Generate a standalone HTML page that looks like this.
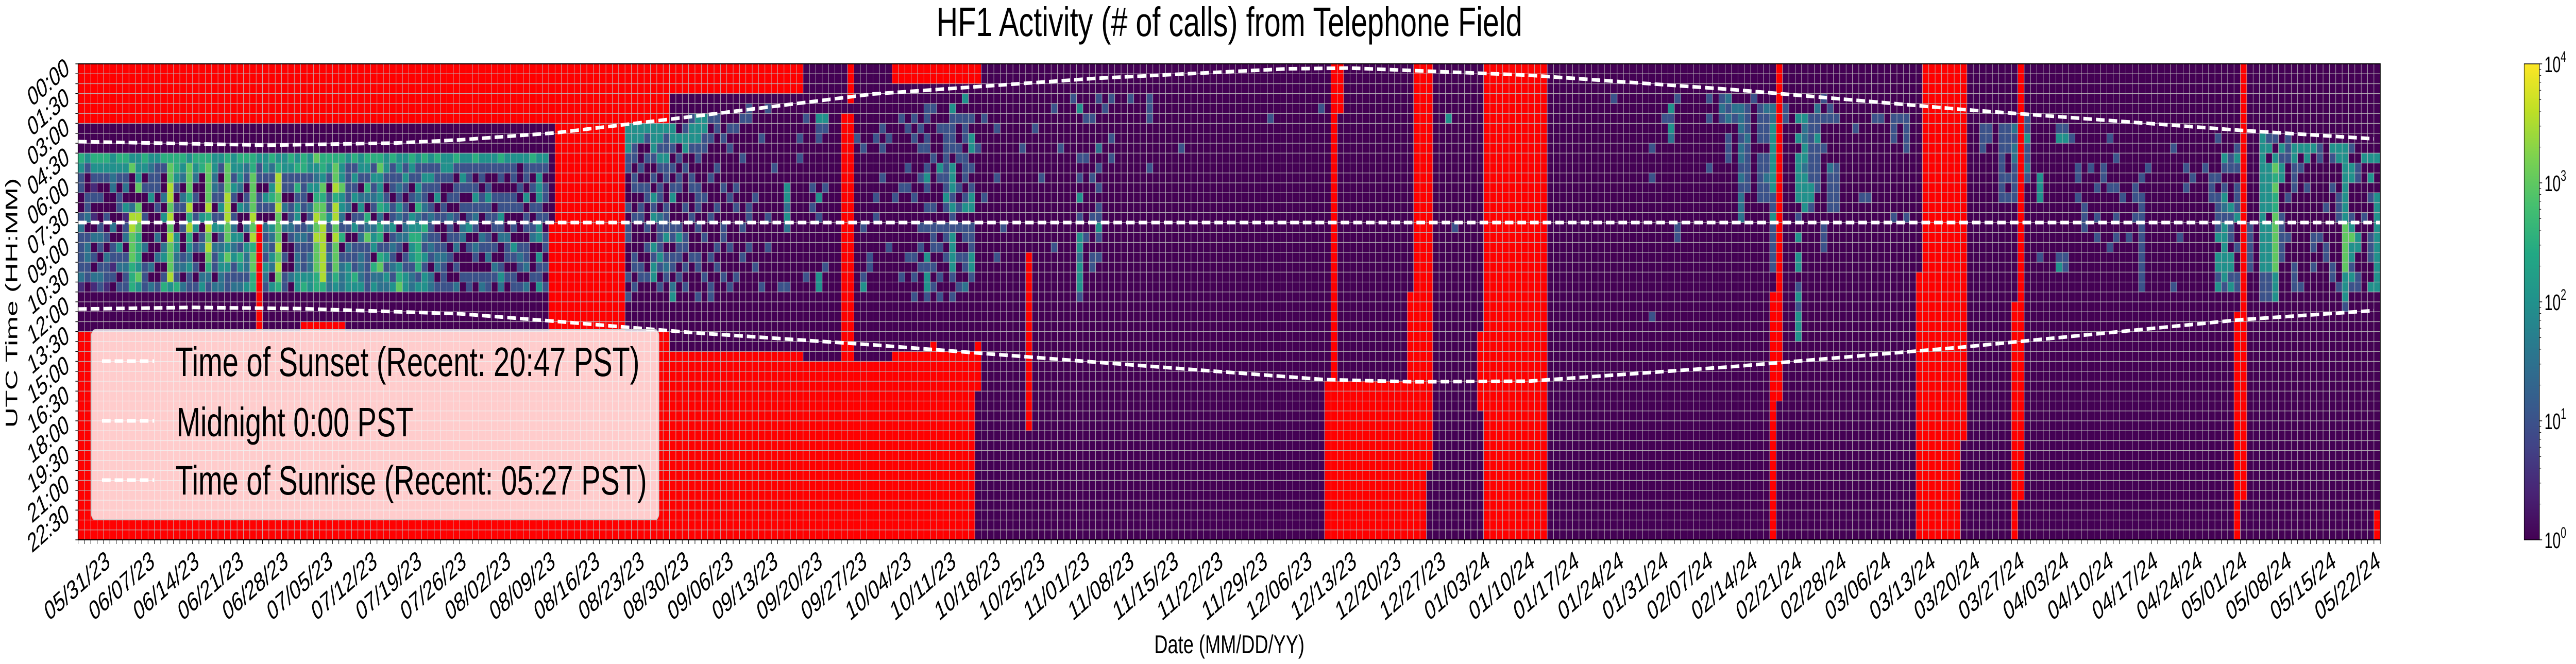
<!DOCTYPE html>
<html><head><meta charset="utf-8"><title>HF1 Activity</title>
<style>html,body{margin:0;padding:0;background:#fff;overflow:hidden;width:100%;height:100%}svg{display:block;width:100vw;height:100vh}text{font-family:"Liberation Sans","DejaVu Sans",sans-serif;fill:#000}</style>
</head><body>
<svg id="chart" xmlns="http://www.w3.org/2000/svg" viewBox="0 0 7753 1289" preserveAspectRatio="none">
<defs><linearGradient id="vir" x1="0" y1="1" x2="0" y2="0">
<stop offset="0" stop-color="#440154"/><stop offset="0.1" stop-color="#482475"/><stop offset="0.2" stop-color="#414487"/><stop offset="0.3" stop-color="#355f8d"/><stop offset="0.4" stop-color="#2a788e"/><stop offset="0.5" stop-color="#21918c"/><stop offset="0.6" stop-color="#22a884"/><stop offset="0.7" stop-color="#44bf70"/><stop offset="0.8" stop-color="#7ad151"/><stop offset="0.9" stop-color="#bddf26"/><stop offset="1" stop-color="#fde725"/></linearGradient></defs>
<text x="3700" y="70" font-size="80" text-anchor="middle" textLength="1763" lengthAdjust="spacingAndGlyphs">HF1 Activity (# of calls) from Telephone Field</text>
<g id="cells"></g>
<g id="grid"></g>
<g id="lines"></g>
<rect x="235" y="124" width="6929" height="924" fill="none" stroke="#000" stroke-width="2"/>
<g id="ticks"></g>
<text transform="translate(52,588) rotate(-90)" font-size="50" text-anchor="middle" textLength="485" lengthAdjust="spacingAndGlyphs">UTC Time (HH:MM)</text>
<text x="3700" y="1268" font-size="50" text-anchor="middle" textLength="452" lengthAdjust="spacingAndGlyphs">Date (MM/DD/YY)</text>
<g>
<rect x="275" y="640" width="1708" height="369" rx="12" fill="#fff" fill-opacity="0.8" stroke="#ccc" stroke-width="2"/>
<line x1="307" y1="701" x2="464" y2="701" stroke="#fff" stroke-width="7" stroke-dasharray="26 12"/>
<line x1="307" y1="817" x2="464" y2="817" stroke="#fff" stroke-width="7" stroke-dasharray="26 12"/>
<line x1="307" y1="932" x2="464" y2="932" stroke="#fff" stroke-width="7" stroke-dasharray="26 12"/>
<text x="528" y="730" font-size="80" textLength="1397" lengthAdjust="spacingAndGlyphs">Time of Sunset (Recent: 20:47 PST)</text>
<text x="531" y="847" font-size="80" textLength="713" lengthAdjust="spacingAndGlyphs">Midnight 0:00 PST</text>
<text x="528" y="960" font-size="80" textLength="1419" lengthAdjust="spacingAndGlyphs">Time of Sunrise (Recent: 05:27 PST)</text>
</g>
<g>
<rect x="7597" y="124" width="46" height="924" fill="url(#vir)" stroke="#000" stroke-width="1.5"/>
<g id="cbticks"></g>
</g>
</svg>
<script>
const NS = "http://www.w3.org/2000/svg";
// ---- data ----
const startDate = "2023-05-27";
const nDays = 362;
const nRows = 48; // 30-minute bins
const ROW0 = 3; // level strings start at this row
// level digit d => log10(calls) = d/2
const levels = [
"0000005422002322223100","0000004200223023322000","0000005421201030203100","0000005420200232023200","0000005420002020322100",
"0000004433000302212000","0000005420220004230200","0000005423041230232200","0000004600037766655500","0000004446067655546400",
"0000005402002003022200","0000004322400000030300","0000004222020030300200","0000005200304003402500","0000005667767676667400",
"0000005542020044332500","0000005430320200230300","0000004666575754342200","0000005430202402020200","0000005500004023003400",
"0000005666675767653200","0000004433202403220300","0000004202242423443300","0000005666777664642200","0000004424202343422300",
"0000005443040042542300","0000005320230304332400","0000005566667675665500","0000004220220000000000","0000004420420323243200",
"0000005324520432430400","0000004577676667676500","0000004422030300202200","0000005422022320003000","0000004525244232334400",
"0000005522220232224500","0000004424032322334400","0000006434567676665500","0000005546566777777500","0000005420224202323300",
"0000005667577676665400","0000005446443250233300","0000004222230203244400","0000005242402402225400","0000004420342232333400",
"0000005425305362222200","0000005242320344053400","0000005644453552563300","0000004420240302424300","0000005222022423232400",
"0000004423243032045600","0000004242022330224400","0000005420204454423300","0000004224353455552400","0000005242232532424400",
"0000004242023223203300","0000005222402022330200","0000004420022002322200","0000004420203220200200","0000005202202023020300",
"0000004242020330002000","0000004222022402002200","0000005202423203202000","0000004220220032002300","0000004202422022302200",
"0000004200202202032000","0000005220224230024300","0000004200220032202000","0000004220220204202200","0000004002020002320200",
"0000004220402202230300","0000005202020230002000","0000004244422440422400","0000004202202022020200",
"","","","","","","","","","","","",
"000444220002022000202","000442202200200022020","000440020202200002200","000420200220020200200","000444202042400424400",
"000442420220322242020","000422422002224023200",
"0004420202400220220340","0000402022000242202000","0002440200020022020200","0024420022002000200000","0044422002220200220020",
"0044220000200020002000","0020200020002000200220","0022000200020002020000","0000200002000220002000","0002020000200002000200",
"0002000002020000002000","0020002000000200200000","0220000000022002000000","0000000000200000020000","0000200000000000000200",
"0200000000002002000000","0000000200000000000000","0000000000000000000200","0000000004434300000200","0000000000000000000000",
"0000202000000000000000","0020000000000000002000","0000000002020000000000","0042200000402000004400","0042000002000000020000",
"","","","",
"0000200000000000000000","0000020000000200002400","0000000000000000220000","0000200000202000000000","0002020020000000000000",
"0000200000000002000000","0000000000200000000000","0020000002000000002000","0002000202000000200000","0020200000200000202020",
"0002020020000202020000","0220220242020200424420","0200002000020222020200","0002000420000202002020","0002222222420220200000",
"0422220444242244442020","0020022002020200200200","4022202220240220220300","0020440202440222442000","0000020000000000000000",
"0020000000200000000000","","0002000020000000200000","0000000000000200000000","","","0000020000000000000000","","0002000000000000000000",
"0000000020000000000000","","0200000000000002000000","0000020000000000000000","","2000000000000000000000",
"0400002020402044344420","0020002000000020000000","002000002000200022","2000030202022420200000",
"0200000000000000000000","2000202000","","","2","","","2220000200","","","","","00000200","","","","","","","","","","","","","","002","","","","","","","","02",
"","","","","","","","","","","","","","","","","","","","004","00000000000002","","","","","",
"","","","","","","","","","","",
"","","","","","","","","2","","","","","",
"00000200200000000000002","","002","042430","200000000000022","","","","","2020000200","","232","3230222","0320",
"0333233232333","0222322222","2","02222022222","03222022322","03344444442242222200","03234234444444444244","022","",
"0040404444402040440242444","0043344344440","0022222224420","0322422222","2020020000000222","022000032222","002000022222",
"","","0002","0000000000200","0000000000200","002","002","","0022200000002","0020000000000","0022220000002","","","0023220000002","",
"","","","","","","",
"0002220","00022","","000222222220","00022200202","000323322220","0022232323232","002242232","",
"00000000444000002","","","000240000000000024","000240000000000022","0000200000","00000002202000","00000000000222",
"00000002","000000000200202","0000000220","0000200002000002","000000200200202","0000000000200","0000000000000020",
"0000000002202","00000000202222222222","0000000200000","","","","000002000000000000020","000000000000002",
"0000000202","000000002","","000000020","00000000222","00002000202222404424","00000042024324444442",
"00000022000422204424","00000242022240020022","0000000000000000000002","000000000000022222","",
"0000444444444444442220","0000240444440444442220","0000204656556666664440","00000424400022222","00002220002000200",
"00000442220000000222","00000402000000000002","0000044002000000000","0000040000000022020","0000022000000020",
"00000000000200022","0000042002000000022","00000440002220000002","00000444444446666644420","00000204400024644242",
"00000002200000440022","00000040000020000000","00000040402000222004","00000040004444444444","00000244224545666664",
"00000444222440240242"
];
// no-data (red) blocks: [firstDay, lastDay, firstRow, lastRow]
const missing = [
[0,76,0,5],[0,34,27,47],[35,41,26,47],[42,73,27,47],[28,28,16,47],[74,74,16,47],[75,85,0,47],
[86,92,0,5],[86,92,27,47],[93,113,0,2],[93,113,29,47],[114,127,30,47],[120,121,5,47],[121,121,0,3],
[128,141,0,1],[128,140,29,47],[134,134,28,28],[141,141,28,32],[149,149,19,36],
[196,208,32,47],[197,197,0,47],[198,198,0,4],[209,209,23,47],[210,211,0,47],[212,212,0,40],[220,220,27,34],
[221,230,0,47],[266,266,23,47],[267,267,0,33],[289,289,21,47],[290,295,0,47],[296,296,0,37],
[304,304,24,47],[305,305,0,43],[339,339,25,47],[340,340,0,43],[361,361,45,47]
];
const sunsetDays = [0,30,50,60,75,97,125,160,190,200,228,260,296,340,361];
const sunsetUTC  = [3.92,4.1,3.99,3.83,3.48,2.64,1.52,0.73,0.25,0.21,0.57,1.29,2.29,3.35,3.78];
const sunriseDays = [0,18,35,60,75,97,125,160,196,210,228,260,296,340,361];
const sunriseUTC  = [12.36,12.28,12.34,12.6,12.98,13.56,14.17,15.04,15.92,16.03,16.0,15.27,14.29,12.9,12.44];
const midnightUTC = 8.0;
const xTickLabels = ["05/31/23","06/07/23","06/14/23","06/21/23","06/28/23","07/05/23","07/12/23","07/19/23","07/26/23","08/02/23","08/09/23","08/16/23","08/23/23","08/30/23","09/06/23","09/13/23","09/20/23","09/27/23","10/04/23","10/11/23","10/18/23","10/25/23","11/01/23","11/08/23","11/15/23","11/22/23","11/29/23","12/06/23","12/13/23","12/20/23","12/27/23","01/03/24","01/10/24","01/17/24","01/24/24","01/31/24","02/07/24","02/14/24","02/21/24","02/28/24","03/06/24","03/13/24","03/20/24","03/27/24","04/03/24","04/10/24","04/17/24","04/24/24","05/01/24","05/08/24","05/15/24","05/22/24"];
const firstTickDay = 4, tickStepDays = 7;
const yTickLabels = ["00:00","01:30","03:00","04:30","06:00","07:30","09:00","10:30","12:00","13:30","15:00","16:30","18:00","19:30","21:00","22:30"];
const yTickStepRows = 3;
const cbExponents = [0,1,2,3,4];

// ---- layout ----
const PX0=235, PX1=7164, PY0=124, PY1=1048;
const cw=(PX1-PX0)/nDays, rh=(PY1-PY0)/nRows;
const xDay = d => PX0 + d*cw;
const yRow = r => PY0 + r*rh;
const yHour = h => PY0 + h*2*rh;
const stops=["#440154","#482475","#414487","#355f8d","#2a788e","#21918c","#22a884","#44bf70","#7ad151","#bddf26","#fde725"];
function hex(h){return [1,3,5].map(i=>parseInt(h.substr(i,2),16));}
function viridis(t){t=Math.max(0,Math.min(1,t));const p=t*10,i=Math.min(9,Math.floor(p)),f=p-i;const a=hex(stops[i]),b=hex(stops[i+1]);return "rgb("+a.map((v,k)=>Math.round(v+(b[k]-v)*f)).join(",")+")";}
const cbY = e => PY1 - (e/4)*(PY1-PY0);

function isMissing(d,r){for(const m of missing){if(d>=m[0]&&d<=m[1]&&r>=m[2]&&r<=m[3])return true;}return false;}
function level(d,r){const s=levels[d]||"";const i=r-ROW0;if(i<0||i>=s.length)return 0;return +s[i];}

const cells=document.getElementById("cells");
for(let d=0;d<nDays;d++){for(let r=0;r<nRows;r++){
  const el=document.createElementNS(NS,"rect");
  el.setAttribute("x",xDay(d).toFixed(2));el.setAttribute("y",yRow(r).toFixed(2));
  el.setAttribute("width",(cw+0.3).toFixed(2));el.setAttribute("height",(rh+0.3).toFixed(2));
  el.setAttribute("fill",isMissing(d,r)?"#ff0000":viridis(level(d,r)/2/4));
  
  
  cells.appendChild(el);
}}
const grid=document.getElementById("grid");
for(let d=1;d<nDays;d++){const l=document.createElementNS(NS,"line");
  l.setAttribute("x1",xDay(d));l.setAttribute("x2",xDay(d));l.setAttribute("y1",PY0);l.setAttribute("y2",PY1);
  l.setAttribute("stroke","#c0c0c0");l.setAttribute("stroke-width","1.3");
  
  
  grid.appendChild(l);}
for(let r=1;r<nRows;r++){const l=document.createElementNS(NS,"line");
  l.setAttribute("x1",PX0);l.setAttribute("x2",PX1);l.setAttribute("y1",yRow(r));l.setAttribute("y2",yRow(r));
  l.setAttribute("stroke","#b8b8b8");l.setAttribute("stroke-width","1.3");
  
  
  grid.appendChild(l);}
const lines=document.getElementById("lines");
function curve(days,hrs,name){const pts=days.map((d,i)=>xDay(d).toFixed(1)+","+yHour(hrs[i]).toFixed(1)).join(" ");
  const p=document.createElementNS(NS,"polyline");p.setAttribute("points",pts);p.setAttribute("fill","none");
  p.setAttribute("stroke","#fff");p.setAttribute("stroke-width","7");p.setAttribute("stroke-dasharray","26 12");
  
  
  lines.appendChild(p);}
curve(sunsetDays,sunsetUTC,"sunset-line");
curve([0,nDays],[midnightUTC,midnightUTC],"midnight-line");
curve(sunriseDays,sunriseUTC,"sunrise-line");

const ticks=document.getElementById("ticks");
for(let d=0;d<=nDays;d++){const t=document.createElementNS(NS,"line");
  t.setAttribute("x1",xDay(d));t.setAttribute("x2",xDay(d));t.setAttribute("y1",PY1);t.setAttribute("y2",PY1+8);
  t.setAttribute("stroke","#000");t.setAttribute("stroke-width","1.5");
  
  
  ticks.appendChild(t);}
for(let r=0;r<=nRows;r++){const t=document.createElementNS(NS,"line");
  t.setAttribute("x1",PX0-8);t.setAttribute("x2",PX0);t.setAttribute("y1",yRow(r));t.setAttribute("y2",yRow(r));
  t.setAttribute("stroke","#000");t.setAttribute("stroke-width","1.5");
  
  
  ticks.appendChild(t);}
xTickLabels.forEach((s,k)=>{const x=xDay(firstTickDay+k*tickStepDays)+23,y=1098;
  const t=document.createElementNS(NS,"text");t.textContent=s;
  t.setAttribute("x",x);t.setAttribute("y",y);t.setAttribute("font-size","52");t.setAttribute("text-anchor","end");
  t.setAttribute("textLength","217");t.setAttribute("lengthAdjust","spacingAndGlyphs");
  t.setAttribute("transform","rotate(-30 "+x+" "+y+")");
  
  
  ticks.appendChild(t);});
yTickLabels.forEach((s,k)=>{const x=212,y=yRow(k*yTickStepRows)+17;
  const t=document.createElementNS(NS,"text");t.textContent=s;
  t.setAttribute("x",x);t.setAttribute("y",y);t.setAttribute("font-size","52");t.setAttribute("text-anchor","end");
  t.setAttribute("textLength","134");t.setAttribute("lengthAdjust","spacingAndGlyphs");
  t.setAttribute("transform","rotate(-30 "+x+" "+y+")");
  
  
  ticks.appendChild(t);});
const cbt=document.getElementById("cbticks");
cbExponents.forEach(e=>{const y=cbY(e);
  const l=document.createElementNS(NS,"line");l.setAttribute("x1",7643);l.setAttribute("x2",7651);l.setAttribute("y1",y);l.setAttribute("y2",y);
  l.setAttribute("stroke","#000");l.setAttribute("stroke-width","1.5");
  
  
  cbt.appendChild(l);
  const t=document.createElementNS(NS,"text");t.setAttribute("x",7658);t.setAttribute("y",y+16);t.setAttribute("font-size","44");
  
  
  t.textContent="10";
  const sp=document.createElementNS(NS,"tspan");sp.setAttribute("dy","-20");sp.setAttribute("font-size","30");sp.textContent=String(e);
  t.appendChild(sp);cbt.appendChild(t);
  if(e<4){for(let m=2;m<10;m++){const ym=cbY(e+Math.log10(m));const ml=document.createElementNS(NS,"line");
    ml.setAttribute("x1",7643);ml.setAttribute("x2",7648);ml.setAttribute("y1",ym);ml.setAttribute("y2",ym);
    ml.setAttribute("stroke","#000");ml.setAttribute("stroke-width","1");
    
    
    cbt.appendChild(ml);}}
});
</script>
</body></html>
